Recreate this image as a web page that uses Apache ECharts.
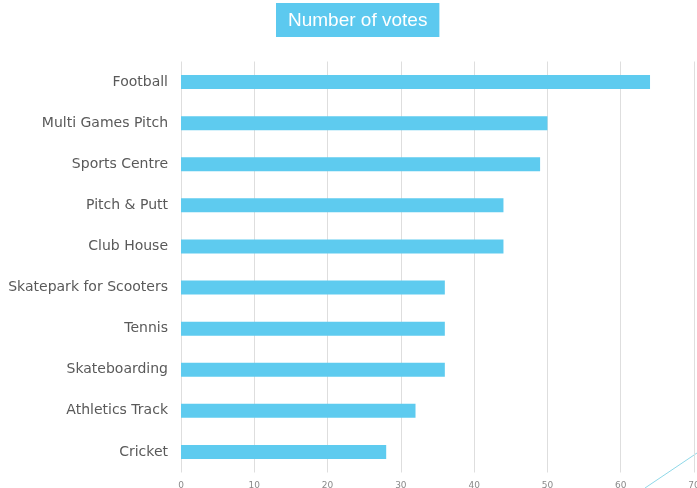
<!DOCTYPE html>
<html>
<head>
<meta charset="utf-8">
<script src="https://cdn.jsdelivr.net/npm/echarts@6/dist/echarts.min.js"></script>
<style>
  html, body { margin: 0; padding: 0; background: #fff; }
  #chart { width: 697px; height: 488px; }
</style>
</head>
<body>
<div id="chart"></div>
<script>
// Facilities, listed top to bottom
const categories = [
  'Football', 'Multi Games Pitch', 'Sports Centre', 'Pitch & Putt', 'Club House',
  'Skatepark for Scooters', 'Tennis', 'Skateboarding', 'Athletics Track', 'Cricket'
];
const votes = [64, 50, 49, 44, 44, 36, 36, 36, 32, 28];
const axisTicks = [0, 10, 20, 30, 40, 50, 60, 70];

const chart = echarts.init(document.getElementById('chart'), null, { renderer: 'canvas' });

chart.setOption({
  animation: false,
  backgroundColor: '#ffffff',
  title: {
    text: 'Number of votes',
    left: 276,
    top: 3,
    padding: [8, 12, 7, 12],
    backgroundColor: '#5cc9ef',
    textStyle: {
      color: '#ffffff',
      fontFamily: 'Liberation Sans, Arial, sans-serif',
      fontSize: 19,
      fontWeight: 'normal'
    }
  },
  grid: {
    left: 181, right: 3, top: 61.5, bottom: 15.5,
    containLabel: false,
    outerBoundsMode: 'none'
  },
  xAxis: {
    type: 'value',
    min: axisTicks[0],
    max: axisTicks[axisTicks.length - 1],
    interval: 10,
    axisLine: { show: false },
    axisTick: { show: false },
    splitLine: { show: true, lineStyle: { color: '#dedede', width: 1 } },
    axisLabel: {
      color: '#8a8a8a',
      fontSize: 9,
      margin: 9,
      fontFamily: 'DejaVu Sans, sans-serif'
    }
  },
  yAxis: {
    type: 'category',
    data: categories,
    inverse: true,
    axisLine: { show: false },
    axisTick: { show: false },
    splitLine: { show: false },
    axisLabel: {
      color: '#595959',
      fontSize: 14,
      margin: 13,
      fontFamily: 'DejaVu Sans, sans-serif'
    }
  },
  series: [{
    type: 'bar',
    data: votes,
    barWidth: 14,
    itemStyle: { color: '#5ecbef' }
  }],
  graphic: [{
    type: 'line',
    silent: true,
    shape: { x1: 645, y1: 488, x2: 697, y2: 453 },
    style: { stroke: '#8fd8e8', lineWidth: 1 }
  }]
});
</script>
</body>
</html>
